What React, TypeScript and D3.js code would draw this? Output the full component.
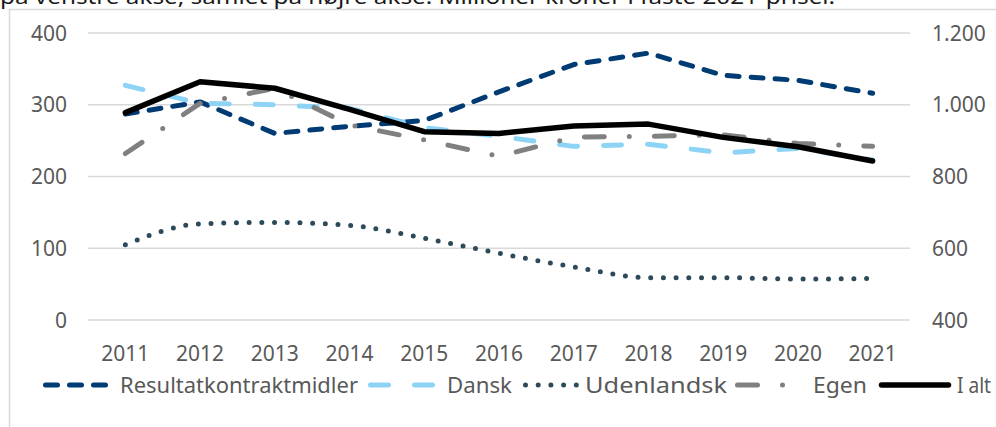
import { useEffect, useRef } from 'react';
import * as d3 from 'd3';

// Data (mio. kr., faste 2021-priser)
const years = ['2011', '2012', '2013', '2014', '2015', '2016', '2017', '2018', '2019', '2020', '2021'];
const resultatkontrakt = [287, 304, 260, 270, 278, 318, 356, 372, 341, 334, 316];
const dansk = [327, 302, 300, 295, 268, 256, 242, 245, 233, 239, 223];
const udenlandsk = [105, 134, 136, 132, 114, 93, 74, 59, 59, 57, 58];
const egen = [232, 302, 323, 272, 251, 228, 255, 256, 258, 246, 242];
const iAlt = [978, 1064, 1046, 987, 925, 920, 941, 946, 909, 883, 843];

const leftTicks = [0, 100, 200, 300, 400];
const rightTicks = [400, 600, 800, 1000, 1200];

const titleText = 'på venstre akse, samlet på højre akse. Millioner kroner i faste 2021-priser.';

const series = [
  { name: 'Resultatkontraktmidler', values: resultatkontrakt, color: '#003B73', dash: '12 12', axis: 'left', smooth: false, width: 5 },
  { name: 'Dansk', values: dansk, color: '#8DD3F6', dash: '18 26', axis: 'left', smooth: false, width: 5 },
  { name: 'Udenlandsk', values: udenlandsk, color: '#2C4A5A', dash: '0 12.7', axis: 'left', smooth: true, width: 5 },
  { name: 'Egen', values: egen, color: '#808080', dash: '20 25 0 25', axis: 'left', smooth: false, width: 5 },
  { name: 'I alt', values: iAlt, color: '#000000', dash: null, axis: 'right', smooth: false, width: 5.5 },
];

// legend layout: symbol start/end and label start, label width (px)
const legendSym = [[43, 108], [368, 435], [523, 588], [735, 810], [879, 951]];
const legendTextX = [120, 447, 585, 813, 957];
const legendTextW = [238, 65, 142, 54, 34];

export default function App() {
  const ref = useRef<SVGSVGElement>(null);

  useEffect(() => {
    const svg = d3.select(ref.current);
    svg.selectAll('*').remove();

    const font = "'Noto Sans', sans-serif";
    const txt = '#595959';

    // Outer chart border
    svg.append('rect')
      .attr('x', 9.5).attr('y', 9.5)
      .attr('width', 1200).attr('height', 600)
      .attr('fill', 'none')
      .attr('stroke', '#D9D9D9')
      .attr('stroke-width', 1.5);

    // Title, clipped by the top edge as in the source
    svg.append('text')
      .attr('x', 0).attr('y', 4)
      .attr('font-family', font)
      .attr('font-size', 20)
      .attr('fill', '#1a1a1a')
      .attr('textLength', 835)
      .attr('lengthAdjust', 'spacingAndGlyphs')
      .text(titleText);

    const x = d3.scaleBand().domain(years).range([88, 910]).padding(0);
    const yL = d3.scaleLinear().domain([0, 400]).range([320, 33]);
    const yR = d3.scaleLinear().domain([400, 1200]).range([320, 33]);

    // Gridlines
    svg.append('g')
      .selectAll('line')
      .data(leftTicks)
      .join('line')
      .attr('x1', 88).attr('x2', 910)
      .attr('y1', d => yL(d)).attr('y2', d => yL(d))
      .attr('stroke', '#D9D9D9')
      .attr('stroke-width', 1.5);

    // Left axis labels
    svg.append('g')
      .selectAll('text')
      .data(leftTicks)
      .join('text')
      .attr('x', 67)
      .attr('y', d => yL(d))
      .attr('dy', '0.36em')
      .attr('text-anchor', 'end')
      .attr('font-family', font)
      .attr('font-size', 21)
      .attr('fill', txt)
      .text(d => String(d));

    // Right axis labels (Danish thousands separator)
    const fmt = (v: number) => d3.format(',')(v).replace(/,/g, '.');
    svg.append('g')
      .selectAll('text')
      .data(rightTicks)
      .join('text')
      .attr('x', 932)
      .attr('y', d => yR(d))
      .attr('dy', '0.36em')
      .attr('font-family', font)
      .attr('font-size', 21)
      .attr('fill', txt)
      .text(d => fmt(d));

    // Year labels
    svg.append('g')
      .selectAll('text')
      .data(years)
      .join('text')
      .attr('x', d => (x(d) ?? 0) + x.bandwidth() / 2)
      .attr('y', 361)
      .attr('text-anchor', 'middle')
      .attr('font-family', font)
      .attr('font-size', 21)
      .attr('fill', txt)
      .text(d => d);

    // Lines
    series.forEach(s => {
      const ys = s.axis === 'left' ? yL : yR;
      const line = d3.line<number>()
        .x((_, i) => (x(years[i]) ?? 0) + x.bandwidth() / 2)
        .y(d => ys(d))
        .curve(s.smooth ? d3.curveMonotoneX : d3.curveLinear);
      svg.append('path')
        .datum(s.values)
        .attr('fill', 'none')
        .attr('stroke', s.color)
        .attr('stroke-width', s.width)
        .attr('stroke-linecap', 'round')
        .attr('stroke-linejoin', 'round')
        .attr('stroke-dasharray', s.dash)
        .attr('d', line);
    });

    // Legend
    const legendY = 385;
    const lg = svg.append('g');
    series.forEach((s, i) => {
      const [a, b] = legendSym[i];
      lg.append('line')
        .attr('x1', a + 2.5).attr('x2', b - 2.5)
        .attr('y1', legendY).attr('y2', legendY)
        .attr('stroke', s.color)
        .attr('stroke-width', s.width)
        .attr('stroke-linecap', 'round')
        .attr('stroke-dasharray', s.dash);
      lg.append('text')
        .attr('x', legendTextX[i])
        .attr('y', legendY)
        .attr('dy', '0.36em')
        .attr('font-family', font)
        .attr('font-size', 21)
        .attr('fill', txt)
        .attr('textLength', legendTextW[i])
        .attr('lengthAdjust', 'spacingAndGlyphs')
        .text(s.name);
    });
  }, []);

  return (
    <svg
      ref={ref}
      width={996}
      height={427}
      style={{ position: 'absolute', left: 0, top: 0, background: '#fff' }}
    />
  );
}
